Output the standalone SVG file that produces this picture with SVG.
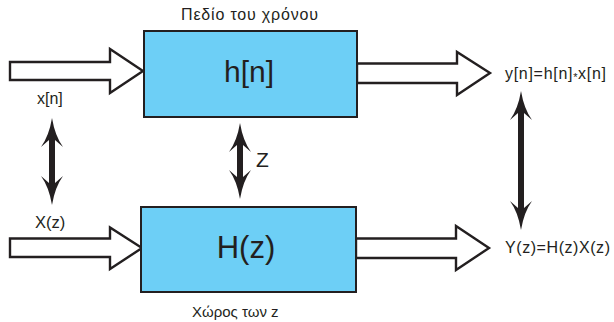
<svg xmlns="http://www.w3.org/2000/svg" width="614" height="322" viewBox="0 0 614 322">
<style>
.box{fill:#6dcff6;stroke:#231f20;stroke-width:2}
.hollow{fill:#fff;stroke:#231f20;stroke-width:2.4;stroke-linejoin:miter}
.dbl{stroke:#231f20;stroke-width:6;fill:none;marker-start:url(#head);marker-end:url(#head)}
text{font-family:"Liberation Sans",Arial,sans-serif;fill:#231f20}
.lbl{font-size:16px}
.big{font-size:30px;text-anchor:middle}
</style>
<defs>
<marker id="head" viewBox="-8 -12 31 24" refX="0" refY="0" markerWidth="31" markerHeight="24" markerUnits="userSpaceOnUse" orient="auto-start-reverse" overflow="visible">
<path d="M22,0 Q4,3 -7,11 L0,3 L0,-3 L-7,-11 Q4,-3 22,0 Z" fill="#231f20"/>
</marker>
</defs>
<g id="connectors">
<polygon class="hollow" points="10,62 110,62 110,49 143,71 110,93 110,80 10,80"/>
<polygon class="hollow" points="357,63.5 457,63.5 457,52 490,73 457,95 457,83 357,83"/>
<polygon class="hollow" points="10,238.5 110,238.5 110,227.5 142,248 110,269 110,257 10,257"/>
<polygon class="hollow" points="356,238.5 456,238.5 456,226 489,248 456,270 456,258 356,258"/>
<line class="dbl" x1="52" y1="140" x2="52" y2="183"/>
<line class="dbl" x1="240" y1="145" x2="240" y2="177"/>
<line class="dbl" x1="521" y1="113" x2="521" y2="208"/>
</g>
<g id="time-domain">
<rect class="box" x="144" y="31" width="213" height="86"/>
<text class="big" x="249" y="82">h[n]</text>
<text class="lbl" x="181" y="19.5" textLength="137">Πεδίο του χρόνου</text>
</g>
<g id="z-domain">
<rect class="box" x="141" y="207" width="215" height="85"/>
<text class="big" x="246" y="258" style="font-size:31px">H(z)</text>
<text class="lbl" x="192" y="317" style="font-size:15px">Χώρος των z</text>
</g>
<g id="labels">
<text class="lbl" x="37" y="104">x[n]</text>
<text class="lbl" x="35" y="228" style="font-size:16.5px">X(z)</text>
<text class="lbl" x="505" y="78.5" textLength="101">y[n]=h[n]<tspan font-size="11" dy="2">*</tspan><tspan dy="-2">x[n]</tspan></text>
<text class="lbl" x="505" y="253" textLength="105">Y(z)=H(z)X(z)</text>
<text x="256" y="167" style="font-size:21px">Z</text>
</g>
</svg>
